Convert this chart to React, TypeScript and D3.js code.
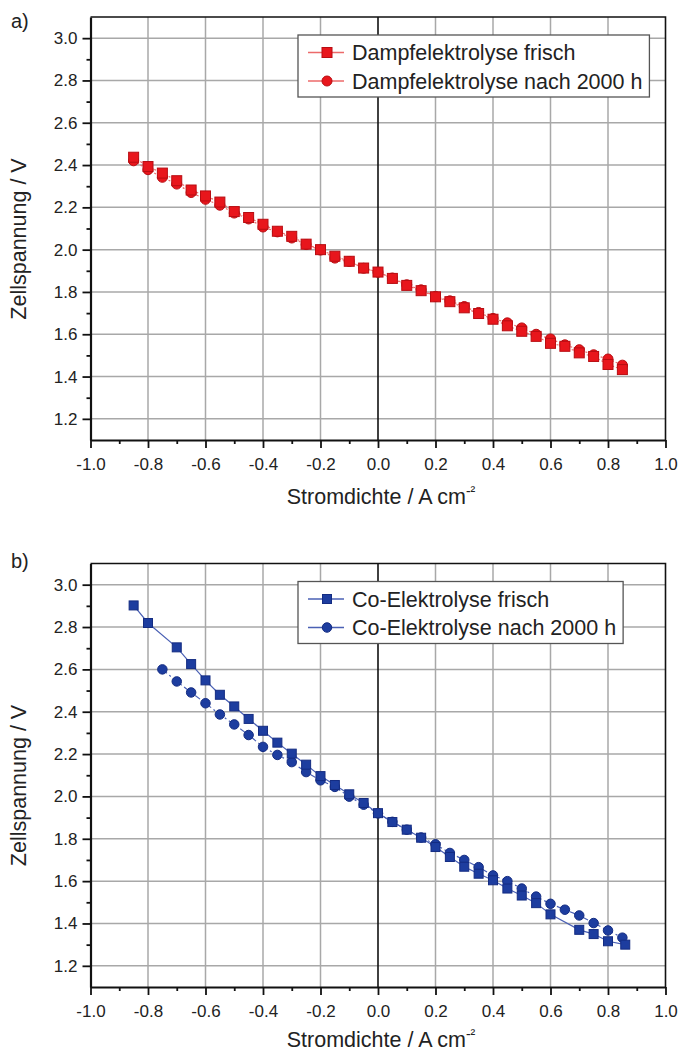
import React, { useEffect, useRef } from 'react';
import * as d3 from 'd3';

// x positions (A cm^-2)
const dampfX = [-0.85, -0.8, -0.75, -0.7, -0.65, -0.6, -0.55, -0.5, -0.45, -0.4, -0.35, -0.3, -0.25, -0.2, -0.15, -0.1, -0.05, 0,
  0.05, 0.1, 0.15, 0.2, 0.25, 0.3, 0.35, 0.4, 0.45, 0.5, 0.55, 0.6, 0.65, 0.7, 0.75, 0.8, 0.85];
const dampfFrisch = [2.437, 2.393, 2.362, 2.326, 2.282, 2.254, 2.225, 2.18, 2.152, 2.12, 2.087, 2.063, 2.026, 2.0, 1.969, 1.945, 1.913, 1.894,
  1.864, 1.831, 1.806, 1.777, 1.754, 1.725, 1.698, 1.671, 1.64, 1.614, 1.59, 1.557, 1.543, 1.512, 1.495, 1.457, 1.433];
const dampf2000 = [2.42, 2.378, 2.342, 2.31, 2.27, 2.238, 2.21, 2.173, 2.145, 2.107, 2.084, 2.055, 2.024, 1.998, 1.96, 1.944, 1.912, 1.893,
  1.866, 1.834, 1.81, 1.779, 1.758, 1.731, 1.703, 1.675, 1.654, 1.63, 1.6, 1.578, 1.55, 1.527, 1.503, 1.483, 1.454];

const coFrischX = [-0.85, -0.8, -0.7, -0.65, -0.6, -0.55, -0.5, -0.45, -0.4, -0.35, -0.3, -0.25, -0.2, -0.15, -0.1, -0.05, 0,
  0.05, 0.1, 0.15, 0.2, 0.25, 0.3, 0.35, 0.4, 0.45, 0.5, 0.55, 0.6, 0.7, 0.75, 0.8, 0.86];
const coFrisch = [2.902, 2.819, 2.704, 2.625, 2.548, 2.48, 2.425, 2.366, 2.31, 2.254, 2.202, 2.15, 2.096, 2.054, 2.01, 1.969, 1.921,
  1.879, 1.843, 1.805, 1.761, 1.714, 1.668, 1.635, 1.604, 1.565, 1.532, 1.496, 1.443, 1.37, 1.35, 1.316, 1.3];
const co2000X = [-0.75, -0.7, -0.65, -0.6, -0.55, -0.5, -0.45, -0.4, -0.35, -0.3, -0.25, -0.2, -0.15, -0.1, -0.05, 0,
  0.05, 0.1, 0.15, 0.2, 0.25, 0.3, 0.35, 0.4, 0.45, 0.5, 0.55, 0.6, 0.65, 0.7, 0.75, 0.8, 0.85];
const co2000 = [2.6, 2.543, 2.491, 2.44, 2.387, 2.34, 2.29, 2.234, 2.196, 2.162, 2.115, 2.076, 2.045, 1.999, 1.961, 1.92,
  1.88, 1.843, 1.806, 1.774, 1.733, 1.7, 1.666, 1.627, 1.6, 1.565, 1.527, 1.493, 1.465, 1.438, 1.402, 1.367, 1.333];

const xMajor = [-1.0, -0.8, -0.6, -0.4, -0.2, 0.0, 0.2, 0.4, 0.6, 0.8, 1.0];
const xMinor = [-0.9, -0.7, -0.5, -0.3, -0.1, 0.1, 0.3, 0.5, 0.7, 0.9];
const yMajor = [1.2, 1.4, 1.6, 1.8, 2.0, 2.2, 2.4, 2.6, 2.8, 3.0];
const yMinor = [1.3, 1.5, 1.7, 1.9, 2.1, 2.3, 2.5, 2.7, 2.9];

const FONT = "'Liberation Sans', Arial, sans-serif";

const drawPanel = (svg, cfg) => {
  const left = 90.5;
  const right = 665.5;
  const { top, bottom } = cfg;

  const x = d3.scaleLinear().domain([-1, 1]).range([left, right]);
  const y = d3.scaleLinear().domain([1.1, 3.1]).range([bottom, top]);

  const g = svg.append('g');

  // grid
  g.append('g').selectAll('line')
    .data(xMajor.filter(v => Math.abs(v) > 0.01 && Math.abs(v) < 0.99))
    .enter().append('line')
    .attr('x1', d => x(d)).attr('x2', d => x(d))
    .attr('y1', top).attr('y2', bottom)
    .attr('stroke', '#a8a8a8').attr('stroke-width', 1.5);
  g.append('g').selectAll('line')
    .data(yMajor)
    .enter().append('line')
    .attr('x1', left).attr('x2', right)
    .attr('y1', d => y(d)).attr('y2', d => y(d))
    .attr('stroke', '#a8a8a8').attr('stroke-width', 1.5);

  // zero line + frame
  g.append('line').attr('x1', x(0)).attr('x2', x(0)).attr('y1', top).attr('y2', bottom)
    .attr('stroke', '#111').attr('stroke-width', 1.6);
  g.append('path')
    .attr('d', `M${left},${top}H${right}V${bottom}`)
    .attr('fill', 'none').attr('stroke', '#111').attr('stroke-width', 1.6);

  // axes
  const xAxis = g.append('g').attr('transform', `translate(0,${bottom})`)
    .call(d3.axisBottom(x).tickValues(xMajor).tickSize(8).tickSizeOuter(0).tickPadding(10)
      .tickFormat(d => d.toFixed(1)));
  g.append('g').attr('transform', `translate(0,${bottom})`)
    .call(d3.axisBottom(x).tickValues(xMinor).tickSize(4).tickSizeOuter(0).tickFormat(() => ''))
    .select('.domain').remove();
  const yAxis = g.append('g').attr('transform', `translate(${left},0)`)
    .call(d3.axisLeft(y).tickValues(yMajor).tickSize(8).tickSizeOuter(0).tickPadding(5)
      .tickFormat(d => d.toFixed(1)));
  g.append('g').attr('transform', `translate(${left},0)`)
    .call(d3.axisLeft(y).tickValues(yMinor).tickSize(4).tickSizeOuter(0).tickFormat(() => ''))
    .select('.domain').remove();

  [xAxis, yAxis].forEach(ax => {
    ax.select('.domain').attr('stroke', '#111').attr('stroke-width', 2.2);
    ax.selectAll('.tick text').attr('font-family', FONT).attr('font-size', 17).attr('fill', '#222');
  });
  g.selectAll('.tick line').attr('stroke', '#111').attr('stroke-width', 1.8);

  // data
  cfg.series.slice().reverse().forEach(s => {
    const pts = s.xs.map((v, i) => [v, s.ys[i]]);
    const line = d3.line().x(d => x(d[0])).y(d => y(d[1]));
    g.append('path').datum(pts)
      .attr('d', line)
      .attr('fill', 'none')
      .attr('stroke', s.lineColor)
      .attr('stroke-width', 1.2)
      .attr('stroke-dasharray', s.dash);
  });
  // circles first, squares on top
  cfg.series.slice().reverse().forEach(s => {
    const pts = s.xs.map((v, i) => [v, s.ys[i]]);
    if (s.shape === 'circle') {
      g.append('g').selectAll('circle').data(pts).enter().append('circle')
        .attr('cx', d => x(d[0])).attr('cy', d => y(d[1])).attr('r', s.size / 2)
        .attr('fill', s.color).attr('stroke', s.edge).attr('stroke-width', 1);
    } else {
      g.append('g').selectAll('rect').data(pts).enter().append('rect')
        .attr('x', d => x(d[0]) - s.size / 2).attr('y', d => y(d[1]) - s.size / 2)
        .attr('width', s.size).attr('height', s.size)
        .attr('fill', s.color).attr('stroke', s.edge).attr('stroke-width', 1);
    }
  });

  // legend
  const lg = g.append('g');
  const box = lg.append('rect')
    .attr('x', 298).attr('y', top + 18).attr('height', 62)
    .attr('fill', '#fff').attr('stroke', '#555').attr('stroke-width', 1.3);
  let maxEnd = 0;
  cfg.series.forEach((s, i) => {
    const ly = top + 35.5 + i * 28.5;
    lg.append('line').attr('x1', 308).attr('x2', 344).attr('y1', ly).attr('y2', ly)
      .attr('stroke', s.lineColor).attr('stroke-width', 1.4);
    if (s.shape === 'circle') {
      lg.append('circle').attr('cx', 327).attr('cy', ly).attr('r', s.size / 2)
        .attr('fill', s.color).attr('stroke', s.edge);
    } else {
      lg.append('rect').attr('x', 327 - s.size / 2).attr('y', ly - s.size / 2)
        .attr('width', s.size).attr('height', s.size)
        .attr('fill', s.color).attr('stroke', s.edge);
    }
    const t = lg.append('text').attr('x', 352).attr('y', ly).attr('dy', '0.36em')
      .attr('font-family', FONT).attr('font-size', 21.5).attr('fill', '#222')
      .text(s.name);
    maxEnd = Math.max(maxEnd, 352 + t.node().getComputedTextLength());
  });
  box.attr('width', maxEnd + 7 - 298);

  // labels
  g.append('text').attr('x', 11).attr('y', cfg.labelY)
    .attr('font-family', FONT).attr('font-size', 20).attr('fill', '#222').text(cfg.label);

  g.append('text')
    .attr('transform', `translate(26,${top + 222}) rotate(-90)`)
    .attr('text-anchor', 'middle')
    .attr('font-family', FONT).attr('font-size', 21.5).attr('fill', '#222')
    .text('Zellspannung / V');

  const xt = g.append('text')
    .attr('x', 381).attr('y', cfg.titleY)
    .attr('text-anchor', 'middle')
    .attr('font-family', FONT).attr('font-size', 21.5).attr('fill', '#222');
  xt.append('tspan').text('Stromdichte / A cm');
  xt.append('tspan').attr('dy', -8).attr('font-size', 14).text('-²');
};

const App = () => {
  const svgRef = useRef(null);

  useEffect(() => {
    const svg = d3.select(svgRef.current);
    svg.selectAll('*').remove();

    const red = { color: '#e8161c', edge: '#b80d12', lineColor: '#ec6a6a', dash: '2,2' };
    const blue = { color: '#1d3d9f', edge: '#142c82', lineColor: '#4a60b4' };

    drawPanel(svg, {
      top: 17, bottom: 440, label: 'a)', labelY: 28, titleY: 504,
      series: [
        { ...red, name: 'Dampfelektrolyse frisch', xs: dampfX, ys: dampfFrisch, shape: 'square', size: 10 },
        { ...red, name: 'Dampfelektrolyse nach 2000 h', xs: dampfX, ys: dampf2000, shape: 'circle', size: 10 },
      ],
    });
    drawPanel(svg, {
      top: 563.5, bottom: 987, label: 'b)', labelY: 568, titleY: 1047,
      series: [
        { ...blue, name: 'Co-Elektrolyse frisch', xs: coFrischX, ys: coFrisch, shape: 'square', size: 9, dash: null },
        { ...blue, name: 'Co-Elektrolyse nach 2000 h', xs: co2000X, ys: co2000, shape: 'circle', size: 9.5, dash: '6,3,2,3' },
      ],
    });
  }, []);

  return (
    <svg ref={svgRef} width={681} height={1054}
      style={{ position: 'absolute', left: 0, top: 0, background: '#fff' }} />
  );
};

export default App;
